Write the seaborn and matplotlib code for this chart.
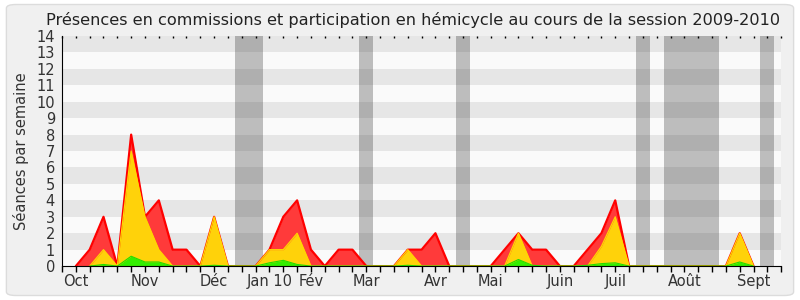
import numpy as np
import pandas as pd
import matplotlib
matplotlib.use("Agg")
import matplotlib.pyplot as plt
from matplotlib.patches import FancyBboxPatch
import seaborn as sns

# ---- data (weekly, session 2009-2010) ----
weeks = list(range(53))
commission = [0, 0, 1, 3, 0, 8, 3, 4, 1, 1, 0, 3, 0, 0, 0, 1, 3, 4, 1, 0,
              1, 1, 0, 0, 0, 1, 1, 2, 0, 0, 0, 0, 1, 2, 1, 1, 0, 0, 1, 2,
              4, 0, 0, 0, 0, 0, 0, 0, 0, 2, 0, 0, 0]
hemicycle = [0, 0, 0, 1, 0, 7, 3, 1, 0, 0, 0, 3, 0, 0, 0, 1, 1, 2, 0, 0,
             0, 0, 0, 0, 0, 1, 0, 0, 0, 0, 0, 0, 0, 2, 0, 0, 0, 0, 0, 1.2,
             3, 0, 0, 0, 0, 0, 0, 0, 0, 2, 0, 0, 0]
interventions = [0, 0, 0, 0.1, 0, 0.6, 0.25, 0.25, 0, 0, 0, 0.05, 0, 0, 0, 0.2, 0.35, 0.1, 0, 0,
                 0, 0, 0, 0, 0, 0.05, 0, 0, 0, 0, 0, 0, 0, 0.4, 0.05, 0, 0, 0, 0.05, 0.15,
                 0.2, 0, 0, 0, 0, 0, 0, 0, 0, 0.25, 0, 0, 0]
vacation_weeks = [13, 14, 22, 29, 42, 44, 45, 46, 47, 51]
month_pos = [1, 6, 11, 15, 18, 22, 27, 31, 36, 40, 45, 50]
month_labels = ["Oct", "Nov", "Déc", "Jan 10", "Fév", "Mar", "Avr", "Mai",
                "Juin", "Juil", "Août", "Sept"]


def outline(vals):
    """Hide outline segments lying flat on zero (keep points next to non-zero)."""
    out = []
    n = len(vals)
    for i, v in enumerate(vals):
        left = vals[i - 1] if i > 0 else 0
        right = vals[i + 1] if i < n - 1 else 0
        out.append(np.nan if (v == 0 and left == 0 and right == 0) else v)
    return out


df = pd.DataFrame({"semaine": weeks, "commission": commission,
                   "hemicycle": hemicycle, "interventions": interventions})
df["c_line"] = outline(commission)
df["h_line"] = outline(hemicycle)
df["i_line"] = outline(interventions)

sns.set_style("white")
plt.rcParams["font.family"] = ["DejaVu Sans"]

fig = plt.figure(figsize=(8, 3), dpi=100, facecolor="white")
bg = FancyBboxPatch((0.008, 0.015), 0.984, 0.97, boxstyle="round,pad=0,rounding_size=0.012",
                    transform=fig.transFigure, facecolor="#f0f0f0", edgecolor="#dcdcdc",
                    linewidth=1, zorder=-10)
fig.patches.append(bg)

ax = fig.add_axes([0.0775, 0.113, 0.899, 0.767])
ax.set_facecolor("#fafafa")
ax.set_xlim(0, 52)
ax.set_ylim(0, 14)

# horizontal stripes
for k in range(1, 14, 2):
    ax.axhspan(k, k + 1, color="#e6e6e6", zorder=0, linewidth=0)
# vacation bands
for w in vacation_weeks:
    ax.axvspan(w - 0.5, w + 0.5, color="#323232", alpha=0.3, zorder=1, linewidth=0)

# areas
ax.fill_between(df["semaine"], 0, df["commission"], color="#ff3a3a", zorder=2, linewidth=0)
sns.lineplot(data=df, x="semaine", y="c_line", color="#ff0000", linewidth=1.6, ax=ax, zorder=3)
ax.fill_between(df["semaine"], 0, df["hemicycle"], color="#ffd20a", zorder=4, linewidth=0)
sns.lineplot(data=df, x="semaine", y="h_line", color="#ffd700", linewidth=0.9, ax=ax, zorder=5)
ax.fill_between(df["semaine"], 0, df["interventions"], color="#33ee00", zorder=6, linewidth=0)
sns.lineplot(data=df, x="semaine", y="i_line", color="#22dd00", linewidth=0.8, ax=ax, zorder=7)

# axes styling
for s in ["top", "right"]:
    ax.spines[s].set_visible(False)
ax.spines["left"].set_color("black")
ax.spines["bottom"].set_color("black")
ax.spines["left"].set_zorder(10)
ax.spines["bottom"].set_zorder(10)

ax.set_yticks(range(15))
ax.set_yticklabels([str(v) for v in range(15)], fontsize=10.5, color="#333333")
labels = [""] * 53
for p, l in zip(month_pos, month_labels):
    labels[p] = l
ax.set_xticks(weeks)
ax.set_xticklabels(labels, fontsize=10.5, color="#333333")
ax.tick_params(axis="both", which="major", length=4, width=1, color="black", direction="out", pad=1)
ax.tick_params(axis="x", pad=2)
ax.set_xlabel("")
ax.set_ylabel("Séances par semaine", fontsize=10.5, color="#333333", labelpad=5)

# top dotted ticks
ax2 = ax.twiny()
ax2.set_xlim(0, 52)
ax2.set_xticks(weeks)
ax2.set_xticklabels([])
ax2.tick_params(axis="x", direction="in", length=1.5, width=1, color="black")
for s in ax2.spines.values():
    s.set_visible(False)

fig.text(0.516, 0.935, "Présences en commissions et participation en hémicycle au cours de la session 2009-2010",
         ha="center", va="center", fontsize=11.6, color="#222222")

fig.savefig("out.png", dpi=100, facecolor=fig.get_facecolor())
